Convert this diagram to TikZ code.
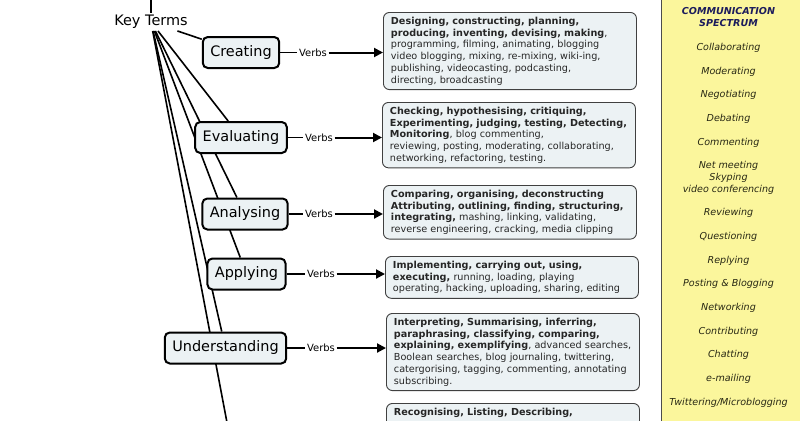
\documentclass[tikz,border=0pt]{standalone}
\usepackage{fontspec}
\setmainfont{DejaVu Sans}
\usetikzlibrary{arrows.meta,backgrounds}
\definecolor{boxfill}{RGB}{236,242,244}
\definecolor{panelfill}{RGB}{251,246,156}
\definecolor{spectxt}{RGB}{40,40,20}
\definecolor{spechead}{RGB}{28,28,92}

\begin{document}
\begin{tikzpicture}[x=1bp, y=-1bp,
  cnode/.style={draw, rounded corners=5bp, line width=2bp, fill=boxfill, minimum height=31bp, inner xsep=7.5bp, font=\fontsize{14.5}{17}\selectfont},
  vbox/.style={draw=black!75, rounded corners=6bp, line width=0.9bp, fill=boxfill, anchor=north west, text width=238bp, align=left, inner xsep=7.5bp, inner ysep=4.5bp, font=\fontsize{9.7}{11.8}\selectfont, text=black!85},
  vlabel/.style={inner sep=1.5bp, font=\fontsize{10}{12}\selectfont},
  link/.style={line width=1.6bp},
  varrow/.style={line width=2bp, -{Triangle[length=9bp,width=9bp]}}
]
  \useasboundingbox (0,0) rectangle (800,420);
  \clip (0,0) rectangle (800,420);

  \fill[panelfill] (661,-5) rectangle (805,425);
  \draw[black!70, line width=1bp] (661,-5) -- (661,425);

  \node[inner sep=2bp, font=\fontsize{14.5}{17}\selectfont] (key) at (151,22) {Key Terms};
  \coordinate (up) at (151,-20);
  \coordinate (rem) at (236,470);

  \node[cnode] (cre) at (241,52.5) {Creating};
  \node[cnode] (eva) at (241,137.5) {Evaluating};
  \node[cnode] (ana) at (245,214) {Analysing};
  \node[cnode] (app) at (246.5,274) {Applying};
  \node[cnode] (und) at (225.5,348) {Understanding};

  \begin{scope}[on background layer]
    \draw[link] (up) -- (key);
    \draw[link] (key) -- (cre);
    \draw[link] (key) -- (eva);
    \draw[link] (key) -- (ana);
    \draw[link] (key) -- (app);
    \draw[link] (key) -- (und);
    \draw[link] (key) -- (rem);
  \end{scope}

  \node[vbox] (crev) at (383,12) {\textbf{Designing, constructing, planning,}\\
    \textbf{producing, inventing, devising, making},\\
    programming, filming, animating, blogging\\
    video blogging, mixing, re-mixing, wiki-ing,\\
    publishing, videocasting, podcasting,\\
    directing, broadcasting};
  \node[vbox] (evav) at (382,102) {\textbf{Checking, hypothesising, critiquing,}\\
    \textbf{Experimenting, judging, testing, Detecting,}\\
    \textbf{Monitoring}, blog commenting,\\
    reviewing, posting, moderating, collaborating,\\
    networking, refactoring, testing.};
  \node[vbox] (anav) at (383,185) {\textbf{Comparing, organising, deconstructing}\\
    \textbf{Attributing, outlining, finding, structuring,}\\
    \textbf{integrating,} mashing, linking, validating,\\
    reverse engineering, cracking, media clipping};
  \node[vbox] (appv) at (385,256) {\textbf{Implementing, carrying out, using,}\\
    \textbf{executing,} running, loading, playing\\
    operating, hacking, uploading, sharing, editing};
  \node[vbox] (undv) at (386,313) {\textbf{Interpreting, Summarising, inferring,}\\
    \textbf{paraphrasing, classifying, comparing,}\\
    \textbf{explaining, exemplifying}, advanced searches,\\
    Boolean searches, blog journaling, twittering,\\
    catergorising, tagging, commenting, annotating\\
    subscribing.};
  \node[vbox] (remv) at (386,403) {\textbf{Recognising, Listing, Describing,}\\ \mbox{}\\ \mbox{}};

  \node[vlabel] (crel) at (313,52.5) {Verbs};
  \node[vlabel] (eval) at (319,137.5) {Verbs};
  \node[vlabel] (anal) at (319,214) {Verbs};
  \node[vlabel] (appl) at (321,274) {Verbs};
  \node[vlabel] (undl) at (321,348) {Verbs};

  \draw[link] (cre) -- (crel);
  \draw[link] (eva) -- (eval);
  \draw[link] (ana) -- (anal);
  \draw[link] (app) -- (appl);
  \draw[link] (und) -- (undl);
  \draw[varrow] (crel) -- (crel -| crev.west);
  \draw[varrow] (eval) -- (eval -| evav.west);
  \draw[varrow] (anal) -- (anal -| anav.west);
  \draw[varrow] (appl) -- (appl -| appv.west);
  \draw[varrow] (undl) -- (undl -| undv.west);

  \node[align=center, anchor=north, inner sep=0pt, text=spectxt,
    font=\fontsize{9.6}{11.8}\selectfont\itshape] (spec) at (728.5,7.5)
    {\textbf{\color{spechead}COMMUNICATION}\\[-0.3bp]
     \textbf{\color{spechead}SPECTRUM}\\[12.4bp]
     Collaborating\\[11.9bp]
     Moderating\\[11.9bp]
     Negotiating\\[11.9bp]
     Debating\\[11.9bp]
     Commenting\\[11.9bp]
     Net meeting\\
     Skyping\\
     video conferencing\\[11.9bp]
     Reviewing\\[11.9bp]
     Questioning\\[11.9bp]
     Replying\\[11.9bp]
     Posting \& Blogging\\[11.9bp]
     Networking\\[11.9bp]
     Contributing\\[11.9bp]
     Chatting\\[11.9bp]
     e-mailing\\[11.9bp]
     Twittering/Microblogging};
\end{tikzpicture}
\end{document}
